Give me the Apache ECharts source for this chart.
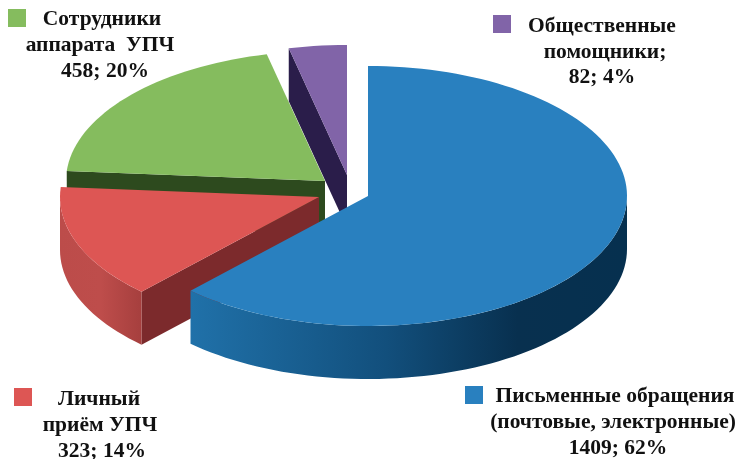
<!DOCTYPE html>
<html>
<head>
<meta charset="utf-8">
<style>
    html, body { margin: 0; padding: 0; background: #fff; }
    #main { width: 738px; height: 459px; }
</style>
<script src="https://cdn.jsdelivr.net/npm/echarts@6/dist/echarts.min.js"></script>
</head>
<body>
<div id="main"></div>
<script>
// slices clockwise from 12 o'clock
let sliceNames = [
    ['Письменные обращения', '(почтовые, электронные)'],
    ['Личный', 'приём УПЧ'],
    ['Сотрудники', 'аппарата  УПЧ'],
    ['Общественные', 'помощники;'],
];
let sliceCounts = [1409, 323, 458, 82];

// pie look, per slice
let topColors = ['#2980BF', '#DD5654', '#85BC5E', '#8164A8'];
let cutColors = ['#0F4C78', '#7C2A2C', '#2D4A1E', '#2A1D4A'];
let rimStops = [
    [[0, '#2071A9'], [0.45, '#124F7C'], [0.75, '#08304F'], [1, '#06304F']],
    [[0, '#BC4C4A'], [0.5, '#BE4D4B'], [1, '#A63F3E']],
    [[0, '#4A7A30'], [1, '#4A7A30']],
    [[0, '#3A2A5C'], [1, '#3A2A5C']],
];
let centers = [[368, 196], [319, 197], [325, 181], [347, 175]];
let radiusX = 259;
let radiusY = 130;
let depth = 53;

// one entry per slice: legend key corner, then centre x / middle y for each text line
let labelLayout = [
    {key: [465, 386], lines: [[615, 396], [613, 422], [618, 448]]},
    {key: [14, 388], lines: [[99, 399], [100, 425], [102, 451]]},
    {key: [8, 9], lines: [[102, 19], [100, 45], [105, 71]]},
    {key: [493, 15], lines: [[602, 26], [605, 52], [602, 77]]},
];

let total = sliceCounts.reduce((a, b) => a + b, 0);
let startAngles = sliceCounts.map((item, index) =>
    sliceCounts.slice(0, index).reduce((a, b) => a + b, 0) / total * 360);

let project = (index, angle, drop = 0) => {
    let rad = angle * Math.PI / 180;
    return [
        centers[index][0] + radiusX * Math.sin(rad),
        centers[index][1] - radiusY * Math.cos(rad) + drop
    ];
};

let arc = (index, from, to, drop = 0) => {
    let points = [];
    let steps = Math.max(2, Math.ceil((to - from) / 2));
    for (let i = 0; i <= steps; i++) {
        points.push(project(index, from + (to - from) * i / steps, drop));
    }
    return points;
};

let renderSlice = (params, api) => {
    let index = api.value(0);
    let from = startAngles[index];
    let to = from + api.value(1) / total * 360;
    let center = centers[index];
    let children = [];

    // only the cut at the start angle ever faces the viewer here
    let startPoint = project(index, from);
    children.push({
        type: 'polygon',
        shape: {points: [center, startPoint, [startPoint[0], startPoint[1] + depth], [center[0], center[1] + depth]]},
        style: {fill: cutColors[index]}
    });

    // outer wall, front half of the ellipse only
    let rimFrom = Math.max(from, 90);
    let rimTo = Math.min(to, 270);
    if (rimFrom < rimTo) {
        let upper = arc(index, rimFrom, rimTo);
        let lower = arc(index, rimFrom, rimTo, depth).reverse();
        let xs = upper.map(p => p[0]);
        children.push({
            type: 'polygon',
            shape: {points: upper.concat(lower)},
            style: {
                fill: new echarts.graphic.LinearGradient(
                    Math.min(...xs), 0, Math.max(...xs), 0,
                    rimStops[index].map(stop => ({offset: stop[0], color: stop[1]})), true)
            }
        });
    }

    children.push({
        type: 'polygon',
        shape: {points: [center].concat(arc(index, from, to))},
        style: {fill: topColors[index]}
    });
    return {type: 'group', children: children};
};

let labelGraphics = [];
sliceNames.forEach((name, index) => {
    let percent = Math.round(sliceCounts[index] / total * 100);
    let lines = name.concat(sliceCounts[index] + '; ' + percent + '%');
    labelGraphics.push({
        type: 'rect',
        shape: {x: labelLayout[index].key[0], y: labelLayout[index].key[1], width: 18, height: 18},
        style: {fill: topColors[index]}
    });
    lines.forEach((line, lineIndex) => {
        labelGraphics.push({
            type: 'text',
            x: labelLayout[index].lines[lineIndex][0],
            y: labelLayout[index].lines[lineIndex][1],
            style: {
                text: line,
                fill: '#111',
                font: 'bold 21.5px "Liberation Serif"',
                align: 'center',
                verticalAlign: 'middle'
            }
        });
    });
});

let chart = echarts.init(document.getElementById('main'), null, {renderer: 'canvas'});
chart.setOption({
    backgroundColor: '#fff',
    animation: false,
    graphic: labelGraphics,
    series: [{
        type: 'custom',
        coordinateSystem: 'none',
        renderItem: renderSlice,
        // painted back to front
        data: [3, 2, 1, 0].map(index => [index, sliceCounts[index]])
    }]
});
</script>
</body>
</html>
